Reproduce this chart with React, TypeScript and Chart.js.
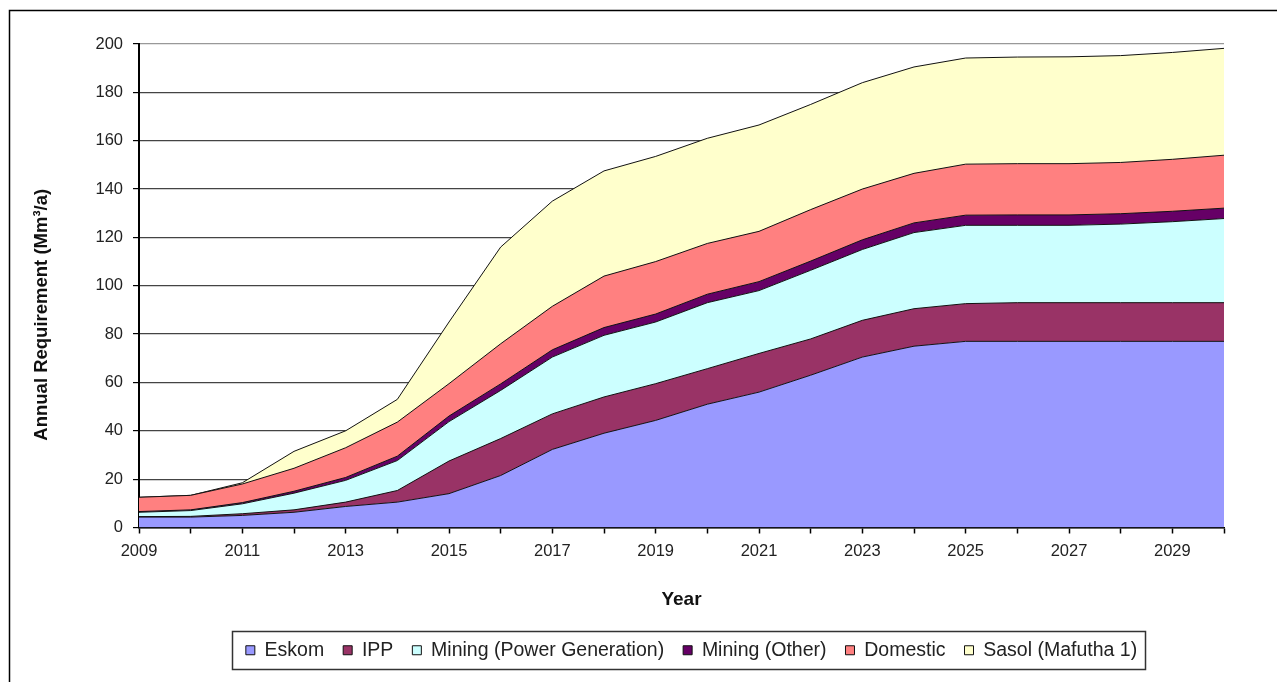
import React, { useEffect, useRef } from "react";
import { Chart, registerables } from "chart.js";

Chart.register(...registerables);

// ---- Data ----
const years = [
  "2009", "2010", "2011", "2012", "2013", "2014", "2015", "2016", "2017", "2018", "2019",
  "2020", "2021", "2022", "2023", "2024", "2025", "2026", "2027", "2028", "2029", "2030",
];
const xTickLabels = ["2009", "2011", "2013", "2015", "2017", "2019", "2021", "2023", "2025", "2027", "2029"];

const eskom = [4.3, 4.3, 5.0, 6.3, 8.7, 10.5, 14.0, 21.5, 32.3, 39.0, 44.3, 51.0, 56.0, 63.0, 70.5, 75.0, 77.0, 77.0, 77.0, 77.0, 77.0, 77.0];
const ipp = [0.2, 0.3, 0.7, 1.0, 1.8, 4.8, 13.5, 15.3, 14.7, 15.0, 15.2, 14.7, 16.0, 15.0, 15.2, 15.5, 15.6, 16.0, 16.0, 16.0, 16.0, 16.0];
const miningPower = [1.8, 2.4, 4.1, 6.9, 9.0, 12.4, 16.3, 19.9, 23.5, 25.5, 25.5, 27.3, 26.0, 28.4, 29.3, 31.5, 32.4, 32.0, 32.0, 32.5, 33.5, 34.8];
const miningOther = [0.3, 0.3, 0.5, 0.8, 1.2, 1.8, 2.3, 2.7, 3.0, 3.2, 3.3, 3.5, 3.7, 3.8, 4.0, 4.0, 4.2, 4.3, 4.3, 4.3, 4.3, 4.3];
const domestic = [5.9, 6.0, 7.7, 9.5, 12.3, 14.1, 13.4, 16.6, 18.0, 21.3, 21.7, 21.0, 20.8, 21.3, 21.0, 20.5, 21.1, 21.2, 21.2, 21.2, 21.5, 21.9];
const sasol = [0, 0, 0.5, 7.0, 7.0, 9.4, 25.5, 40.0, 43.5, 43.5, 43.5, 43.5, 44.0, 43.5, 44.0, 44.0, 43.9, 44.1, 44.2, 44.2, 44.2, 44.2];

const seriesNames = ["Eskom", "IPP", "Mining (Power Generation)", "Mining (Other)", "Domestic", "Sasol (Mafutha 1)"];
const seriesColors = ["#9999FF", "#993366", "#CCFFFF", "#660066", "#FF8080", "#FFFFCC"];
const seriesValues = [eskom, ipp, miningPower, miningOther, domestic, sasol];

const yTitle = "Annual Requirement (Mm\u00B3/a)";
const xTitle = "Year";

const FONT = "'Liberation Sans', Arial, sans-serif";

const framePlugin = {
  id: "frame",
  beforeDraw(chart: any) {
    const ctx = chart.ctx;
    ctx.save();
    ctx.fillStyle = "#ffffff";
    ctx.fillRect(0, 0, chart.width, chart.height);
    ctx.strokeStyle = "#000000";
    ctx.lineWidth = 1.5;
    ctx.beginPath();
    ctx.moveTo(9.5, chart.height);
    ctx.lineTo(9.5, 10.5);
    ctx.lineTo(chart.width, 10.5);
    ctx.stroke();
    ctx.restore();
  },
};

// y-axis title, placed like the original (slightly below the plot's middle)
const yTitlePlugin = {
  id: "yTitle",
  afterDraw(chart: any) {
    const ctx = chart.ctx;
    const area = chart.chartArea;
    ctx.save();
    ctx.translate(42, (area.top + area.bottom) / 2 + 29);
    ctx.rotate(-Math.PI / 2);
    ctx.fillStyle = "#111111";
    ctx.font = `bold 18.5px ${FONT}`;
    ctx.textAlign = "center";
    ctx.textBaseline = "middle";
    ctx.fillText(yTitle, 0, 0);
    ctx.restore();
  },
};

const LEGEND_SHIFT = 10;

const legendBoxPlugin = {
  id: "legendBox",
  beforeDraw(chart: any) {
    const lg = chart.legend;
    if (!lg || lg._shifted) return;
    lg.left += LEGEND_SHIFT;
    lg.right += LEGEND_SHIFT;
    (lg.legendHitBoxes || []).forEach((h: any) => {
      h.left += LEGEND_SHIFT;
    });
    lg._shifted = true;
  },
  afterDraw(chart: any) {
    const lg = chart.legend;
    if (!lg || !lg.legendHitBoxes || !lg.legendHitBoxes.length) return;
    const hb = lg.legendHitBoxes;
    const first = hb[0];
    const last = hb[hb.length - 1];
    const left = Math.round(first.left - 14) + 0.5;
    const right = Math.round(last.left + last.width + 8) + 0.5;
    const top = Math.round(first.top - 10) + 0.5;
    const bottom = Math.round(first.top + first.height + 9) + 0.5;
    const ctx = chart.ctx;
    ctx.save();
    ctx.strokeStyle = "#333333";
    ctx.lineWidth = 1.5;
    ctx.strokeRect(left, top, right - left, bottom - top);
    ctx.restore();
  },
};

export default function App() {
  const canvasRef = useRef<HTMLCanvasElement | null>(null);

  useEffect(() => {
    if (!canvasRef.current) return;
    const chart = new Chart(canvasRef.current, {
      type: "line",
      data: {
        labels: years,
        datasets: seriesValues.map((vals, i) => ({
          label: seriesNames[i],
          data: vals,
          backgroundColor: seriesColors[i],
          borderColor: "#111111",
          borderWidth: 1,
          pointRadius: 0,
          pointHoverRadius: 0,
          tension: 0,
          fill: i === 0 ? "origin" : "-1",
        })),
      },
      options: {
        responsive: false,
        animation: false,
        devicePixelRatio: 1,
        layout: { padding: { left: 0, right: 53, top: 44, bottom: 12 } },
        plugins: {
          tooltip: { enabled: false },
          legend: {
            position: "bottom",
            fullSize: false,
            labels: {
              boxWidth: 9,
              boxHeight: 9,
              padding: 19,
              color: "#222222",
              font: { family: FONT, size: 19.5 },
            },
          },
        },
        scales: {
          x: {
            type: "category",
            offset: false,
            afterFit: (scale: any) => {
              scale.height = 94;
            },
            grid: {
              display: true,
              drawOnChartArea: false,
              drawTicks: true,
              tickLength: 6,
              tickColor: "#000000",
              tickWidth: 1.5,
            },
            border: { display: true, color: "#000000", width: 1.5 },
            ticks: {
              autoSkip: false,
              maxRotation: 0,
              minRotation: 0,
              padding: 8,
              color: "#222222",
              font: { family: FONT, size: 16.5 },
              callback: (_v: any, i: number) => (xTickLabels.includes(years[i]) ? years[i] : ""),
            },
            title: {
              display: true,
              text: xTitle,
              color: "#111111",
              font: { family: FONT, size: 19, weight: "bold" },
              padding: { top: 0, bottom: 10 },
            },
          },
          y: {
            stacked: true,
            min: 0,
            max: 200,
            afterFit: (scale: any) => {
              scale.width = 139;
            },
            grid: {
              color: (c: any) => (c.tick && c.tick.value === 200 ? "#999999" : "#444444"),
              lineWidth: 1.2,
              drawTicks: true,
              tickLength: 6,
              tickColor: "#000000",
            },
            border: { display: true, color: "#000000", width: 2 },
            ticks: {
              stepSize: 20,
              padding: 10,
              color: "#222222",
              font: { family: FONT, size: 16.5 },
            },
            title: { display: false },
          },
        },
      },
      plugins: [framePlugin, yTitlePlugin, legendBoxPlugin],
    });
    return () => chart.destroy();
  }, []);

  return (
    <div style={{ position: "fixed", left: 0, top: 0, width: 1277, height: 682, overflow: "hidden", background: "#fff" }}>
      <canvas ref={canvasRef} width={1277} height={682} style={{ display: "block" }} />
    </div>
  );
}
